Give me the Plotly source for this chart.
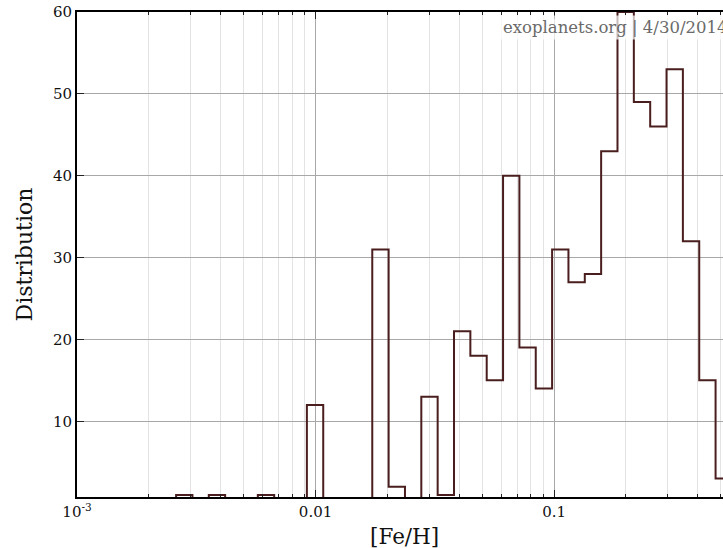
import plotly.graph_objects as go

# Histogram of [Fe/H] in uniform log-spaced bins
LOG_BIN_START = -2.5846   # log10 of the first bin's left edge
LOG_BIN_WIDTH = 0.06853   # width of each bin in decades
counts = [1, 0, 1, 0, 0, 1, 0, 0, 12, 0, 0, 0, 31, 2, 0, 13, 1, 21, 18, 15,
          40, 19, 14, 31, 27, 28, 43, 60, 49, 46, 53, 32, 15, 3]
x_tick_vals = [0.001, 0.01, 0.1]
x_tick_text = ["10<sup>-3</sup>", "0.01", "0.1"]
x_minor_vals = [0.002, 0.003, 0.004, 0.005, 0.006, 0.007, 0.008, 0.009,
                0.02, 0.03, 0.04, 0.05, 0.06, 0.07, 0.08, 0.09,
                0.2, 0.3, 0.4, 0.5]
y_tick_vals = [10, 20, 30, 40, 50, 60]
credit = "exoplanets.org | 4/30/2014"

edges = [10 ** (LOG_BIN_START + i * LOG_BIN_WIDTH) for i in range(len(counts) + 1)]
step_x = [edges[0]] + edges
step_y = [0] + counts + [0]

FONT = "DejaVu Serif"
LINE = "#4a1e1e"

fig = go.Figure()
fig.add_trace(go.Scatter(
    x=step_x, y=step_y, mode="lines", line=dict(shape="hv", color=LINE, width=2),
    showlegend=False, hoverinfo="skip"))

fig.update_layout(
    width=723, height=548,
    margin=dict(l=77, r=0, t=12, b=51),
    paper_bgcolor="white", plot_bgcolor="white",
    font=dict(family=FONT, size=15, color="#111"),
    xaxis=dict(
        type="log", range=[-3, -0.292],
        tickmode="array", tickvals=x_tick_vals, ticktext=x_tick_text,
        ticks="inside", ticklen=7, tickwidth=1, tickcolor="#222",
        showline=True, linecolor="black", linewidth=2, mirror="allticks",
        showgrid=True, gridcolor="#a8a8a8", gridwidth=1,
        zeroline=False,
        minor=dict(tickmode="array", tickvals=x_minor_vals,
                   ticks="inside", ticklen=3, tickcolor="#222",
                   showgrid=True, gridcolor="#e3e3e3", gridwidth=1),
        tickfont=dict(family=FONT, size=15),
    ),
    yaxis=dict(
        range=[0.75, 60], tickvals=y_tick_vals,
        ticks="inside", ticklen=7, tickwidth=1, tickcolor="#222",
        showline=True, linecolor="black", linewidth=2, mirror=False,
        showgrid=True, gridcolor="#a8a8a8", gridwidth=1,
        zeroline=False,
        tickfont=dict(family=FONT, size=15),
    ),
    annotations=[
        dict(text=credit, xref="paper", yref="paper", x=0.655, y=0.9687,
             xanchor="left", yanchor="middle", showarrow=False,
             font=dict(family=FONT, size=16.5, color="#6a6a6a"),
             bgcolor="rgba(255,255,255,0.7)", borderpad=2),
        dict(text="Distribution", xref="paper", yref="paper", x=-0.0805, y=0.5,
             xanchor="center", yanchor="middle", textangle=-90, showarrow=False,
             font=dict(family=FONT, size=22, color="#111")),
        dict(text="[Fe/H]", xref="paper", yref="paper", x=0.5077, y=-0.0819,
             xanchor="center", yanchor="middle", showarrow=False,
             font=dict(family=FONT, size=21.5, color="#111")),
    ],
)

fig.write_html(
    "out.html",
    config={"displayModeBar": False},
    post_script="document.body.style.margin='0';document.body.style.overflow='hidden';",
)
